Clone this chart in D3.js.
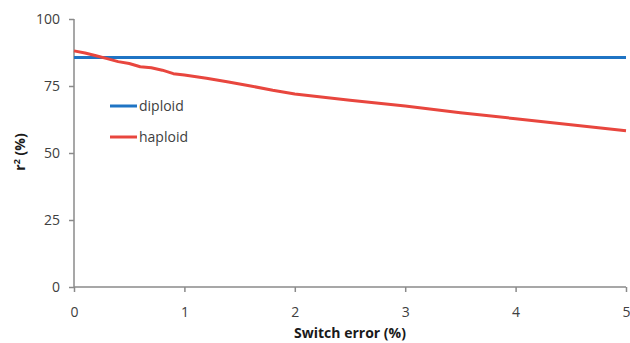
<!DOCTYPE html>
<html><head><meta charset="utf-8">
<script src="https://cdn.jsdelivr.net/npm/d3@7"></script>
<style>body{margin:0;background:#fff}</style>
</head><body>
<svg id="c" width="630" height="343"></svg>
<script>
const switchError = [0,0.1,0.2,0.3,0.4,0.5,0.6,0.7,0.8,0.9,1.0,1.2,1.4,1.6,1.8,2.0,2.5,3.0,3.5,4.0,4.5,5.0];
const haploid     = [88.1,87.3,86.3,85.2,84.1,83.4,82.2,81.8,80.9,79.6,79.1,77.9,76.5,75.0,73.4,72.0,69.7,67.5,65.0,62.8,60.5,58.3];
const diploid     = switchError.map(() => 85.6);
const xTicks = [0,1,2,3,4,5];
const yTicks = [0,25,50,75,100];
const seriesNames = ["diploid","haploid"];
const colors = ["#1f74c4","#e8463e"];

const svg = d3.select("#c");
const x = d3.scaleLinear().domain([0,5]).range([74,626]);
const y = d3.scaleLinear().domain([0,100]).range([287,19]);
const font = "'Open Sans', sans-serif";
const textCol = "#404040";
const axisCol = "#8a8a8a";

// axes
const yAxis = svg.append("g").attr("transform","translate(74,0)")
  .call(d3.axisLeft(y).tickValues(yTicks).tickFormat(d3.format("d")).tickSize(5).tickPadding(9));
const xAxis = svg.append("g").attr("transform","translate(0,287)")
  .call(d3.axisBottom(x).tickValues(xTicks).tickFormat(d3.format("d")).tickSize(5).tickPadding(15));
[yAxis,xAxis].forEach(a=>{
  a.select(".domain").attr("stroke",axisCol).attr("stroke-width",1.5);
  a.selectAll(".tick line").attr("stroke",axisCol).attr("stroke-width",1.5);
  a.selectAll("text").attr("fill",textCol).style("font-family",font).style("font-size","14px");
});
xAxis.select(".domain").attr("d","M74,0H626");
yAxis.select(".domain").attr("d","M0,19V287");

// lines
const line = d3.line().x((d,i)=>x(switchError[i])).y(d=>y(d));
[diploid,haploid].forEach((s,k)=>{
  svg.append("path").datum(s).attr("d",line).attr("fill","none")
    .attr("stroke",colors[k]).attr("stroke-width",3).attr("stroke-linejoin","round");
});

// legend
seriesNames.forEach((n,k)=>{
  const ly = 106 + k*31;
  svg.append("line").attr("x1",110).attr("x2",137).attr("y1",ly).attr("y2",ly)
    .attr("stroke",colors[k]).attr("stroke-width",3);
  svg.append("text").attr("x",139).attr("y",ly+5).text(n)
    .attr("fill",textCol).style("font-family",font).style("font-size","14px");
});

// axis titles
svg.append("text").attr("x",350).attr("y",338).attr("text-anchor","middle")
  .style("font-family",font).style("font-size","14px").style("font-weight","bold")
  .attr("fill","#1a1a1a").text("Switch error (%)");
const yt = svg.append("text").attr("transform","translate(25,152) rotate(-90)")
  .attr("text-anchor","middle").style("font-family",font).style("font-size","14px")
  .style("font-weight","bold").attr("fill","#1a1a1a");
yt.append("tspan").text("r");
yt.append("tspan").attr("dy",-5).style("font-size","9px").text("2");
yt.append("tspan").attr("dy",5).text(" (%)");
</script>
</body></html>
